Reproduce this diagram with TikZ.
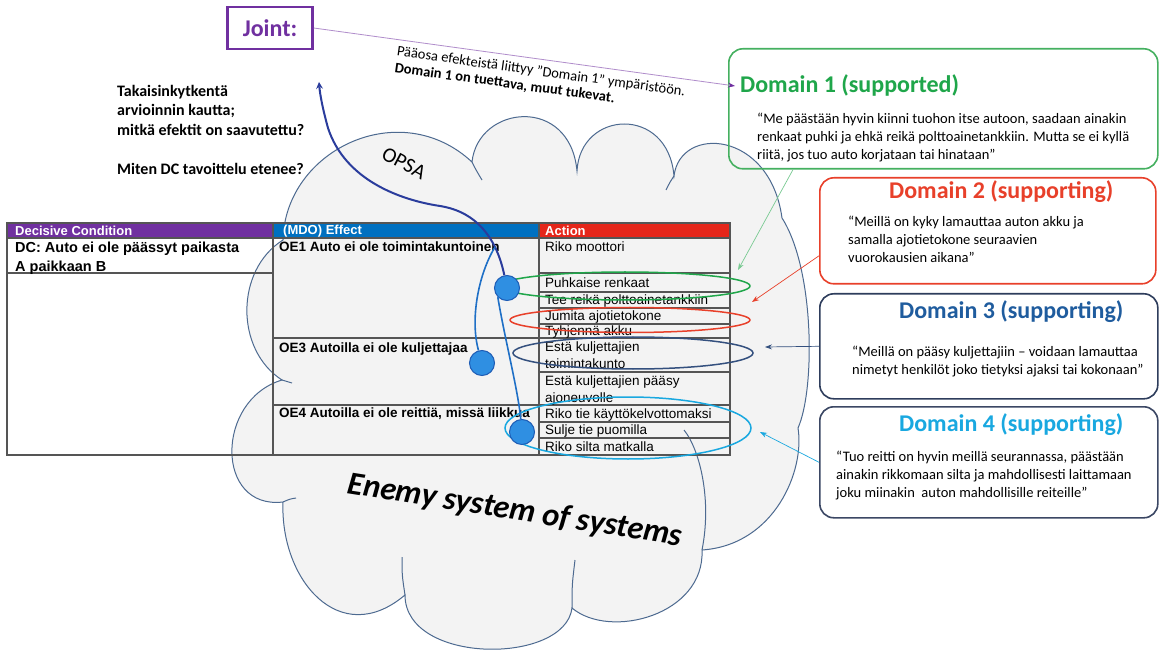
\documentclass[tikz,border=0pt]{standalone}
\usepackage{fontspec}
\setmainfont{Carlito}
\newfontfamily\arialfont{Liberation Sans}
\usetikzlibrary{arrows.meta,positioning}
\definecolor{jointpurple}{HTML}{7030A0}
\definecolor{effblue}{HTML}{0070C0}
\definecolor{actred}{HTML}{E5261A}
\definecolor{cloudedge}{HTML}{4D6A90}
\definecolor{cloudfill}{HTML}{F3F3F3}
\definecolor{tablegray}{HTML}{555555}
\definecolor{dgreen}{HTML}{1FA64A}
\definecolor{dgreenedge}{HTML}{45B060}
\definecolor{dred}{HTML}{E8402A}
\definecolor{dnavy}{HTML}{1F5C9E}
\definecolor{dnavyedge}{HTML}{2E3D5C}
\definecolor{dcyan}{HTML}{19A8E0}
\definecolor{dcyanedge}{HTML}{3B4764}
\definecolor{dotblue}{HTML}{2F8FE2}
\definecolor{dotedge}{HTML}{1D5CB5}
\definecolor{opsablue}{HTML}{2A3C9C}
\definecolor{linkblue}{HTML}{1E6FC6}
\definecolor{ellnavy}{HTML}{34507E}
\tikzset{
  domainbox/.style={draw=#1,line width=1.6pt,rounded corners=14pt,anchor=north west,inner sep=0pt},
  domtitle/.style={font=\fontsize{24}{28}\selectfont\bfseries,text=#1,anchor=base west,inner sep=0pt},
  quote/.style={font=\fontsize{14.5}{18}\selectfont,align=left,anchor=north west,inner sep=0pt},
  hdrtext/.style={font=\arialfont\bfseries\fontsize{13}{15}\selectfont,text=white,anchor=west,inner sep=0pt},
  dctext/.style={font=\arialfont\bfseries\fontsize{14.5}{18.5}\selectfont,align=left,anchor=north west,inner sep=0pt},
  oetext/.style={font=\arialfont\bfseries\fontsize{13.5}{16}\selectfont,anchor=north west,inner sep=0pt},
  acttext/.style={font=\arialfont\fontsize{13.5}{17}\selectfont,align=left,anchor=north west,inner sep=0pt},
  tline/.style={draw=tablegray,line width=1.1pt},
  dot/.style={circle,fill=dotblue,draw=dotedge,line width=1pt,minimum size=25pt,inner sep=0pt},
  link/.style={draw=linkblue,line width=1.6pt},
  pick/.style={draw=#1,line width=1.5pt},
  hint/.style={draw=#1,line width=0.7pt,-{Stealth[length=7pt,width=5pt]}},
  cloudline/.style={draw=cloudedge,line width=1pt},
}
\begin{document}
\begin{tikzpicture}[x=1pt,y=-1pt]
\useasboundingbox (0,0) rectangle (1162,652);
\fill[white] (0,0) rectangle (1162,652);
% cloud
\draw[cloudline,fill=cloudfill] (283,240) .. controls (285,150) and (400,95) .. (472,162)
  .. controls (478,105) and (570,95) .. (577,171)
  .. controls (580,110) and (668,105) .. (674,176)
  .. controls (680,125) and (770,130) .. (782,218)
  .. controls (815,270) and (815,390) .. (798,428)
  .. controls (805,470) and (775,545) .. (702,550)
  .. controls (705,615) and (610,640) .. (572,608)
  .. controls (565,665) and (405,665) .. (405,595)
  .. controls (340,650) and (280,580) .. (283,502)
  .. controls (215,510) and (215,400) .. (282,380)
  .. controls (235,350) and (235,270) .. (283,240) -- cycle;
\draw[cloudline] (472,162) .. controls (476,170) .. (482,180);
\draw[cloudline] (674,176) .. controls (670,182) .. (666,190);
\draw[cloudline] (702,550) .. controls (712,500) and (700,450) .. (684,430);
\draw[cloudline] (572,608) .. controls (572,585) .. (575,560);
\draw[cloudline] (405,595) .. controls (402,575) .. (402,557);
\draw[cloudline] (283,502) .. controls (290,499) .. (296,498);
\draw[cloudline] (282,380) .. controls (287,381) .. (292,383);
% table
\fill[jointpurple] (7,223) rectangle (273,238);
\fill[effblue] (273,223) rectangle (539,238);
\fill[actred] (539,223) rectangle (730,238);
\draw[tline] (7,223) rectangle (730,455);
\foreach \x in {273,539} \draw[tline] (\x,223) -- (\x,455);
\draw[tline] (7,238) -- (730,238);
\draw[tline] (7,273) -- (273,273);
\foreach \y in {338,405} \draw[tline] (273,\y) -- (730,\y);
\foreach \y in {273,292,308,324,372,422,438} \draw[tline] (539,\y) -- (730,\y);
\node[hdrtext] (dchead) at (15,231) {Decisive Condition};
\node[hdrtext] (effhead) at (283,231) {(MDO) Effect};
\node[hdrtext] (acthead) at (545,231) {Action};
\node[dctext] (dc) at (15,242) {DC: Auto ei ole päässyt paikasta\\A paikkaan B};
\node[oetext] (oe1) at (279,242) {OE1 Auto ei ole toimintakuntoinen};
\node[oetext] (oe3) at (279,343) {OE3 Autoilla ei ole kuljettajaa};
\node[oetext] (oe4) at (279,408) {OE4 Autoilla ei ole reittiä, missä liikkua};
\foreach \y/\t [count=\i] in {242/Riko moottori, 278/Puhkaise renkaat, 295/Tee reikä polttoainetankkiin,
  311/Jumita ajotietokone, 326/Tyhjennä akku, 342/{Estä kuljettajien\\toimintakunto},
  376/{Estä kuljettajien pääsy\\ajoneuvolle}, 409/Riko tie käyttökelvottomaksi,
  425/Sulje tie puomilla, 442/Riko silta matkalla}
  \node[acttext] (act\i) at (545,\y) {\t};
% picked actions
\draw[pick=dgreen] (625,286) ellipse [x radius=125pt,y radius=14pt];
\draw[pick=dred] (630,320) ellipse [x radius=120pt,y radius=12.5pt];
\draw[pick=ellnavy] (633,353) ellipse [x radius=120pt,y radius=16pt];
\draw[pick=dcyan] (628,428) ellipse [x radius=123pt,y radius=31pt];
% OPSA loop
\node[dot] (c1) at (507,288) {};
\node[dot] (c2) at (482,363) {};
\node[dot] (c3) at (522,432) {};
\coordinate (feedtip) at (319,82);
\coordinate (fork) at (495,247);
\draw[opsablue,line width=2pt,-stealth] (c1) .. controls (497,240) and (478,212) .. (440,206)
  .. controls (400,200) and (345,180) .. (328,128) .. controls (323,110) and (320,95) .. (feedtip);
\draw[link] (fork) .. controls (478,275) and (470,320) .. (c2);
\draw[link] (c1.south west) .. controls (505,340) and (518,390) .. (c3);
\node[rotate=-28,font=\fontsize{21}{24}\selectfont] (opsa) at (404,163) {OPSA};
\node[rotate=-9,font=\fontsize{32.5}{35}\selectfont\bfseries\itshape] (enemy) at (515,511) {Enemy system of systems};
% domains
\node[domainbox=dgreenedge,minimum width=429pt,minimum height=120pt] (dom1) at (728,48) {};
\node[domtitle=dgreen] (t1) at (740,93) {Domain 1 (supported)};
\node[quote] (q1) at (757,113) {“Me päästään hyvin kiinni tuohon itse autoon, saadaan ainakin\\renkaat puhki ja ehkä reikä polttoainetankkiin. Mutta se ei kyllä\\riitä, jos tuo auto korjataan tai hinataan”};
\node[domainbox=dred,minimum width=336pt,minimum height=106pt] (dom2) at (819,177) {};
\node[domtitle=dred] (t2) at (889,199) {Domain 2 (supporting)};
\node[quote] (q2) at (848,216) {“Meillä on kyky lamauttaa auton akku ja\\samalla ajotietokone seuraavien\\vuorokausien aikana”};
\node[domainbox=dnavyedge,minimum width=338pt,minimum height=105pt] (dom3) at (819,293) {};
\node[domtitle=dnavy] (t3) at (899,319) {Domain 3 (supporting)};
\node[quote] (q3) at (852,346) {“Meillä on pääsy kuljettajiin – voidaan lamauttaa\\nimetyt henkilöt joko tietyksi ajaksi tai kokonaan”};
\node[domainbox=dcyanedge,minimum width=338pt,minimum height=111pt] (dom4) at (819,406) {};
\node[domtitle=dcyan] (t4) at (899,431) {Domain 4 (supporting)};
\node[quote] (q4) at (836,451) {“Tuo reitti on hyvin meillä seurannassa, päästään\\ainakin rikkomaan silta ja mahdollisesti laittamaan\\joku miinakin\ \ auton mahdollisille reiteille”};
\coordinate (gtip) at (738,270);
\coordinate (rtip) at (752,302);
\coordinate (ntip) at (765,347);
\coordinate (ctip) at (760,432);
\draw[hint=dgreen!60] ([xshift=65pt]dom1.south west) -- (gtip);
\draw[hint=dred] ([yshift=-25pt]dom2.west) -- (rtip);
\draw[hint=ellnavy] (dom3.west) -- (ntip);
\draw[hint=dcyan] (dom4.west) -- (ctip);
% joint
\node[draw=jointpurple,line width=2.5pt,minimum width=85pt,minimum height=42pt,text=jointpurple,font=\fontsize{24}{28}\selectfont\bfseries] (joint) at (270,28) {Joint:};
\draw[jointpurple!55,line width=0.8pt,-{Stealth[length=7pt,width=5pt,color=jointpurple]}] (joint.east) -- ([xshift=-5pt]t1.west);
\node[rotate=-8,align=left,font=\fontsize{14.5}{16.5}\selectfont] (note) at (540,80) {Pääosa efekteistä liittyy ”Domain 1” ympäristöön.\\\textbf{Domain 1 on tuettava, muut tukevat.}};
\node[anchor=north west,align=left,inner sep=0pt,font=\fontsize{16}{19.5}\selectfont\bfseries] (feedback) at (117,85) {Takaisinkytkentä\\arvioinnin kautta;\\mitkä efektit on saavutettu?\\[19.5pt]Miten DC tavoittelu etenee?};
\end{tikzpicture}
\end{document}
